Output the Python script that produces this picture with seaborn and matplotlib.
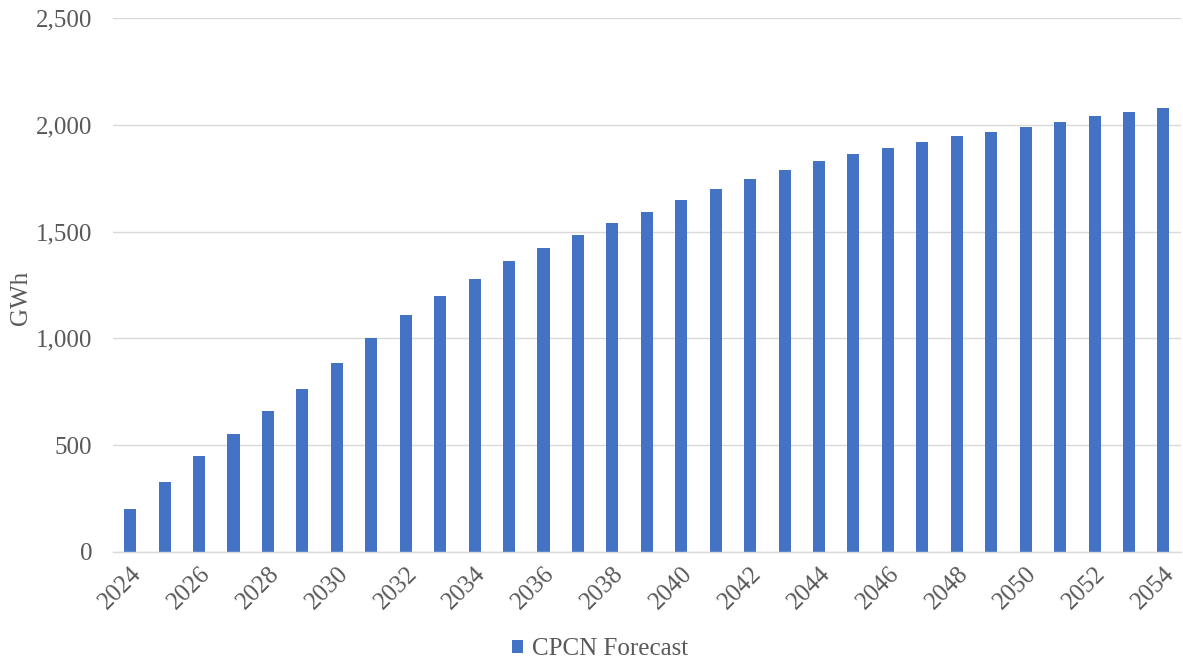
import matplotlib
matplotlib.use("Agg")
import matplotlib.pyplot as plt
import seaborn as sns
import pandas as pd

years = [str(y) for y in range(2024, 2055)]
forecast_gwh = [200, 328, 449, 553, 661, 764, 885, 1001, 1108, 1196,
                1280, 1360, 1425, 1486, 1541, 1590, 1649, 1698, 1748, 1790,
                1831, 1862, 1893, 1918, 1948, 1966, 1991, 2015, 2043, 2062, 2080]
series_name = "CPCN Forecast"
y_ticks = [0, 500, 1000, 1500, 2000, 2500]

df = pd.DataFrame({"Year": years, "GWh": forecast_gwh, "Series": series_name})

sns.set_theme(style="white")
plt.rcParams["font.family"] = ["Liberation Serif", "DejaVu Serif"]

text_color = "#595959"
bar_color = "#4472C4"
grid_color = "#D9D9D9"

fig = plt.figure(figsize=(11.83, 6.61), dpi=100)
ax = fig.add_axes([0.0955, 0.165, 0.9025, 0.8078])

sns.barplot(data=df, x="Year", y="GWh", hue="Series", palette=[bar_color],
            width=0.35, ax=ax, saturation=1, linewidth=0)

ax.set_ylim(0, 2500)
ax.set_xlim(-0.5, len(years) - 0.5)
ax.set_yticks(y_ticks)
ax.set_yticklabels([f"{v:,}" for v in y_ticks])
ax.yaxis.grid(True, color=grid_color, linewidth=1)
ax.set_axisbelow(True)
for side in ["left", "right", "top"]:
    ax.spines[side].set_visible(False)
ax.spines["bottom"].set_color(grid_color)
ax.spines["bottom"].set_linewidth(1)
ax.tick_params(axis="both", length=0, labelsize=18, colors=text_color)
ax.tick_params(axis="y", pad=15)
ax.tick_params(axis="x", pad=8)

ax.set_xticks(range(0, len(years), 2))
ax.set_xticklabels(years[::2], rotation=45, ha="right", rotation_mode="anchor")

ax.set_xlabel("")
ax.set_ylabel("GWh", fontsize=18, color=text_color)
ax.yaxis.set_label_coords(32 / 1183, 1 - 298 / 661, transform=fig.transFigure)

leg = ax.legend(loc="center", bbox_to_anchor=(600 / 1183, 1 - 649 / 661),
                bbox_transform=fig.transFigure, frameon=False,
                fontsize=18, handlelength=0.42, handleheight=0.42, handletextpad=0.35,
                borderpad=0)
for t in leg.get_texts():
    t.set_color(text_color)

fig.savefig("out.png", dpi=100)
